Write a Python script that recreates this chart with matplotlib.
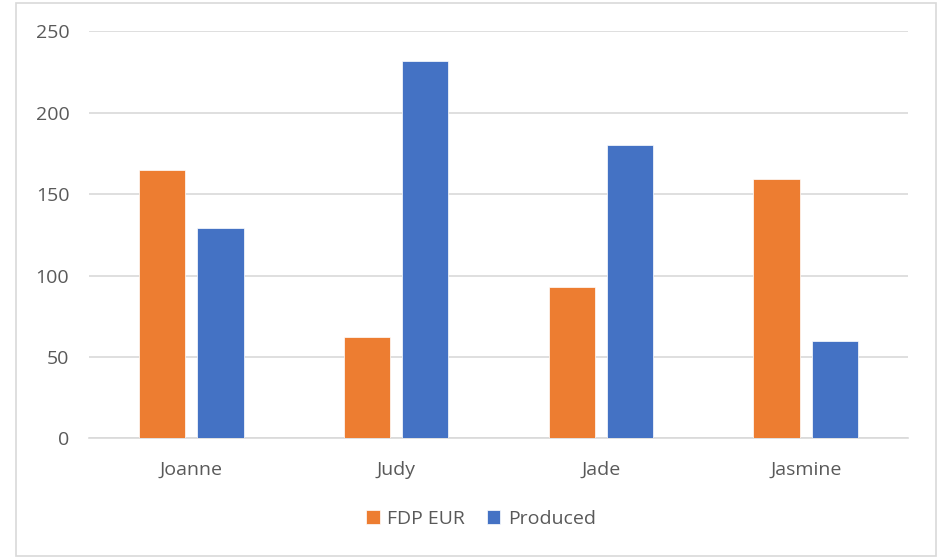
import numpy as np
import matplotlib.pyplot as plt
from matplotlib.patches import Rectangle

# Chart data
names = ['Joanne', 'Judy', 'Jade', 'Jasmine']
fdp_eur = [165, 62, 93, 159]
produced = [129, 232, 180, 60]

orange = '#ED7D31'
blue = '#4472C4'
grid_grey = '#D9D9D9'
text_grey = '#595959'

plt.rcParams['font.family'] = ['Open Sans', 'DejaVu Sans']

fig = plt.figure(figsize=(9.38, 5.57), dpi=100)
ax = fig.add_axes([0.0946, 0.2131, 0.8737, 0.7307])

x = np.arange(len(names))
w = 0.226
off = 0.1425
ax.bar(x - off, fdp_eur, w, color=orange, edgecolor='white', linewidth=0.5,
       label='FDP EUR', zorder=3)
ax.bar(x + off, produced, w, color=blue, edgecolor='white', linewidth=0.5,
       label='Produced', zorder=3)

ax.set_xlim(-0.5, len(names) - 0.5)
ax.set_ylim(0, 250)
ax.set_yticks(range(0, 251, 50))
ax.set_xticks(x)
ax.set_xticklabels(names)

ax.grid(axis='y', color=grid_grey, linewidth=1.2, zorder=0)
for s in ['top', 'right', 'left']:
    ax.spines[s].set_visible(False)
ax.spines['bottom'].set_color(grid_grey)
ax.spines['bottom'].set_linewidth(1.2)
ax.tick_params(axis='both', length=0, colors=text_grey, labelsize=14)
ax.tick_params(axis='y', pad=14)
ax.tick_params(axis='x', pad=16)

fig.legend(loc='center', bbox_to_anchor=(481 / 938, 1 - 519 / 557), ncol=2,
           frameon=False, fontsize=14, labelcolor=text_grey,
           handlelength=0.7, handleheight=0.7, handletextpad=0.4,
           columnspacing=1.1)

# light outer frame around the chart
fig.patches.append(Rectangle((15.7 / 938, 1 - 556 / 557), 920 / 938, 552.7 / 557,
                             transform=fig.transFigure, fill=False,
                             edgecolor=grid_grey, linewidth=1.2))

fig.savefig('out.png', dpi=100)
